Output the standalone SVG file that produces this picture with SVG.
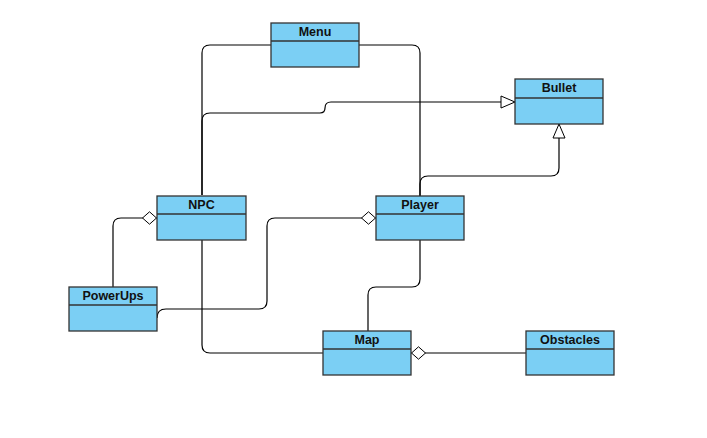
<svg xmlns="http://www.w3.org/2000/svg" width="707" height="438" viewBox="0 0 707 438">
<defs>
<style>
.box{fill:#7bcff4;stroke:#333;stroke-width:1.3}
.t{font-family:"Liberation Sans",Arial,sans-serif;font-size:12.5px;font-weight:bold;fill:#111;text-anchor:middle}
.c{fill:none;stroke:#000;stroke-width:1.2}
</style>
<marker id="tri" viewBox="0 0 16 14" refX="15" refY="7" markerWidth="16" markerHeight="14" markerUnits="userSpaceOnUse" orient="auto">
<path d="M1,1 L15,7 L1,13 Z" fill="#fff" stroke="#000" stroke-width="1"/>
</marker>
<marker id="dia" viewBox="0 0 16 14" refX="15.5" refY="7" markerWidth="16" markerHeight="14" markerUnits="userSpaceOnUse" orient="auto">
<path d="M1,7 L8,0.8 L15,7 L8,13.2 Z" fill="#fff" stroke="#000" stroke-width="1"/>
</marker>
</defs>
<rect width="707" height="438" fill="#fff"/>
<g id="connectors">
<path class="c" d="M271,45 H210 Q202,45 202,53 V195"/>
<path class="c" d="M359,45 H412 Q420,45 420,53 V196"/>
<path class="c" marker-end="url(#tri)" d="M202,195 V121 Q202,113 210,113 H320 Q325,113 325,108 Q325,102 331,102 H515"/>
<path class="c" marker-end="url(#tri)" d="M420,196 V184 Q420,176 428,176 H551 Q559,176 559,168 V124"/>
<path class="c" marker-end="url(#dia)" d="M113,287 V226 Q113,218 121,218 H157"/>
<path class="c" marker-end="url(#dia)" d="M157,318 Q157,309 166,309 H259 Q267,309 267,301 V226 Q267,218 275,218 H376"/>
<path class="c" d="M420,240 V279 Q420,287 412,287 H376 Q368,287 368,295 V331"/>
<path class="c" d="M202,240 V345 Q202,353 210,353 H323"/>
<path class="c" marker-end="url(#dia)" d="M526,353 H411"/>
</g>
<g id="Menu"><rect class="box" x="271" y="23" width="88" height="44"/><line class="box" x1="271" y1="41" x2="359" y2="41"/><text class="t" x="315" y="36">Menu</text></g>
<g id="Bullet"><rect class="box" x="515" y="79" width="88" height="45"/><line class="box" x1="515" y1="98" x2="603" y2="98"/><text class="t" x="559" y="92">Bullet</text></g>
<g id="NPC"><rect class="box" x="157" y="196" width="89" height="44"/><line class="box" x1="157" y1="214" x2="246" y2="214"/><text class="t" x="201.5" y="209">NPC</text></g>
<g id="Player"><rect class="box" x="376" y="196" width="88" height="44"/><line class="box" x1="376" y1="214" x2="464" y2="214"/><text class="t" x="420" y="209">Player</text></g>
<g id="PowerUps"><rect class="box" x="69" y="287" width="88" height="44"/><line class="box" x1="69" y1="305" x2="157" y2="305"/><text class="t" x="113" y="300">PowerUps</text></g>
<g id="Map"><rect class="box" x="323" y="331" width="88" height="44"/><line class="box" x1="323" y1="349" x2="411" y2="349"/><text class="t" x="367" y="344">Map</text></g>
<g id="Obstacles"><rect class="box" x="526" y="331" width="88" height="44"/><line class="box" x1="526" y1="349" x2="614" y2="349"/><text class="t" x="570" y="344">Obstacles</text></g>
</svg>
